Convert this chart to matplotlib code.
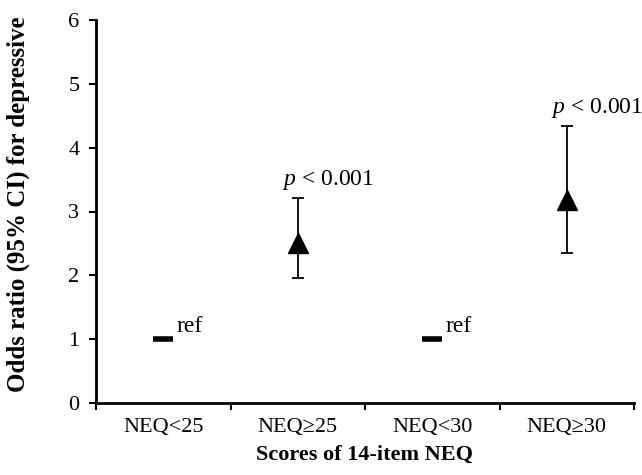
import matplotlib
matplotlib.use("Agg")
import matplotlib.pyplot as plt
import numpy as np

plt.rcParams["font.family"] = ["Liberation Serif", "DejaVu Serif"]
plt.rcParams["mathtext.fontset"] = "custom"
plt.rcParams["mathtext.rm"] = "Liberation Serif"
plt.rcParams["mathtext.it"] = "Liberation Serif:italic"

# data
categories = ["NEQ<25", "NEQ≥25", "NEQ<30", "NEQ≥30"]
odds_ratio = [1.0, 2.51, 1.0, 3.18]
ci_low = [1.0, 1.96, 1.0, 2.35]
ci_high = [1.0, 3.21, 1.0, 4.34]
is_ref = [True, False, True, False]
p_label = "$p$ < 0.001"

x = np.arange(len(categories))
odds_ratio = np.array(odds_ratio)
ci_low = np.array(ci_low)
ci_high = np.array(ci_high)
is_ref = np.array(is_ref)

fig = plt.figure(figsize=(6.42, 4.75), dpi=100)
ax = fig.add_axes([96 / 642, 1 - 403 / 475, 538 / 642, 383 / 475])

# reference groups: short thick dash
ax.plot(x[is_ref], odds_ratio[is_ref], linestyle="none", marker="_",
        markersize=14, markeredgewidth=4, color="black")
for xi in x[is_ref]:
    ax.text(xi + 0.102, 1.11, "ref", fontsize=17, ha="left", va="baseline")

# exposed groups: triangle with 95% CI
m = ~is_ref
yerr = np.vstack([odds_ratio[m] - ci_low[m], ci_high[m] - odds_ratio[m]])
ax.errorbar(x[m], odds_ratio[m], yerr=yerr, fmt="^", color="black",
            markersize=14, elinewidth=1.3, capsize=4, capthick=1.3)
for xi, hi in zip(x[m], ci_high[m]):
    ax.text(xi - 0.115, hi + 0.2, p_label, fontsize=17, ha="left", va="baseline")

ax.set_xlim(-0.5, len(categories) - 0.5)
ax.set_ylim(0, 6)
ax.set_yticks(range(0, 7))
ax.set_xticks(np.arange(-0.5, len(categories)), labels=[])
ax.set_xticks(x, labels=categories, minor=True)

ax.spines["top"].set_visible(False)
ax.spines["right"].set_visible(False)
ax.spines["left"].set_linewidth(2)
ax.spines["bottom"].set_linewidth(2)
ax.tick_params(axis="y", direction="out", length=5, width=1.5, labelsize=16, pad=7)
ax.tick_params(axis="x", which="major", direction="out", length=5, width=1.5)
ax.tick_params(axis="x", which="minor", length=0, labelsize=16, pad=11)

ax.set_xlabel("Scores of 14-item NEQ", fontsize=16, fontweight="bold")
ax.set_ylabel("Odds ratio (95% CI) for depressive", fontsize=18, fontweight="bold")
ax.xaxis.set_label_coords(0.5, -0.11)
ax.yaxis.set_label_coords(-0.123, 0.52)

fig.savefig("out.png", dpi=100)
